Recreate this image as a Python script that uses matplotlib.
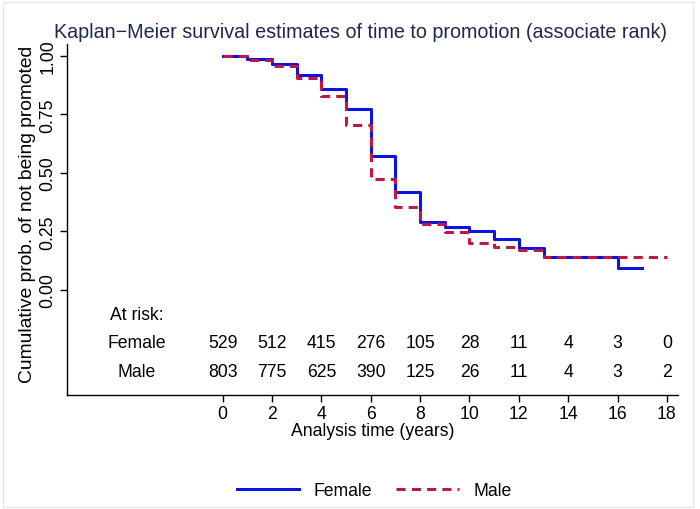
import matplotlib
matplotlib.use("Agg")
import matplotlib.pyplot as plt
from matplotlib.patches import Rectangle

plt.rcParams['font.family'] = ['Liberation Sans', 'DejaVu Sans']

# ------------------------------------------------------------#
#   data
# ------------------------------------------------------------#
female_t = [0, 1, 2, 3, 4, 5, 6, 7, 8, 9, 10, 11, 12, 13, 16, 17]
female_s = [1.0, 0.984, 0.963, 0.919, 0.858, 0.771, 0.570, 0.416, 0.289,
            0.268, 0.251, 0.218, 0.178, 0.142, 0.094, 0.094]
male_t = [0, 1, 2, 3, 4, 5, 6, 7, 8, 9, 10, 11, 12, 13, 18]
male_s = [1.0, 0.983, 0.956, 0.906, 0.829, 0.706, 0.474, 0.355, 0.282,
          0.249, 0.200, 0.185, 0.171, 0.140, 0.140]

risk_times = [0, 2, 4, 6, 8, 10, 12, 14, 16, 18]
female_risk = [529, 512, 415, 276, 105, 28, 11, 4, 3, 0]
male_risk = [803, 775, 625, 390, 125, 26, 11, 4, 3, 2]

y_ticks = [0, 0.25, 0.5, 0.75, 1.0]

blue = '#0a14e0'
red = '#bf1745'
navy = '#1e2a4a'
fs = 12.7

fig = plt.figure(figsize=(7, 5.1), dpi=100)
ax = fig.add_axes([0.0957, 0.2235, 0.8729, 0.6882])

# curves
ax.step(female_t, female_s, where='post', color=blue, lw=2.2, label='Female')
ax.step(male_t, male_s, where='post', color=red, lw=2.2, dashes=(3, 2),
        label='Male')

ax.set_xlim(-6.31, 18.45)
ax.set_ylim(-0.449, 1.05)

ax.spines['right'].set_visible(False)
ax.spines['top'].set_visible(False)
for s in ['left', 'bottom']:
    ax.spines[s].set_linewidth(1.0)
    ax.spines[s].set_color('black')

ax.set_xticks(risk_times)
ax.set_xticklabels([str(t) for t in risk_times], fontsize=fs)
ax.set_yticks(y_ticks)
ax.set_yticklabels(['%.2f' % v for v in y_ticks], fontsize=fs,
                   rotation=90, va='center')
ax.tick_params(axis='x', length=5, width=1, pad=2)
ax.tick_params(axis='y', length=5, width=1, pad=2.5)

ax.set_xlabel('Analysis time (years)', fontsize=fs, labelpad=0)

# at-risk table
lab_x = -3.5
ax.text(lab_x, -0.107, 'At risk:', ha='center', va='center', fontsize=fs)
ax.text(lab_x, -0.226, 'Female', ha='center', va='center', fontsize=fs)
ax.text(lab_x, -0.350, 'Male', ha='center', va='center', fontsize=fs)
for t, f, m in zip(risk_times, female_risk, male_risk):
    ax.text(t, -0.226, str(f), ha='center', va='center', fontsize=fs)
    ax.text(t, -0.350, str(m), ha='center', va='center', fontsize=fs)

# y label and title
fig.text(28 / 700, 1 - 214 / 510, 'Cumulative prob. of not being promoted',
         rotation=90, ha='center', va='center', fontsize=13.9)
fig.text(361 / 700, 1 - 32 / 510,
         'Kaplan\u2212Meier survival estimates of time to promotion (associate rank)',
         ha='center', va='center', fontsize=14.2, color=navy)

# legend
fig.legend(loc='center', bbox_to_anchor=(374 / 700, 1 - 492 / 510), ncol=2,
           frameon=False, fontsize=fs, handlelength=3.55, handletextpad=0.8,
           columnspacing=1.4)

# light outer frame
fig.patches.append(Rectangle((0.004, 0.004), 0.986, 0.99, transform=fig.transFigure,
                             fill=False, edgecolor='#e3e6ec', lw=1))

plt.savefig('out.png', dpi=100)
